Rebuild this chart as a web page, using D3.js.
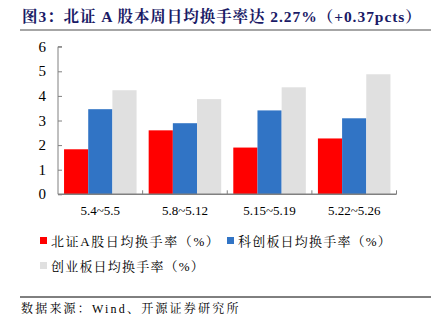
<!DOCTYPE html>
<html><head><meta charset="utf-8">
<script src="https://cdn.jsdelivr.net/npm/d3@7"></script>
<style>body{margin:0;background:#fff;} svg{display:block;}</style>
</head><body>
<script>
const categories = ["5.4~5.5", "5.8~5.12", "5.15~5.19", "5.22~5.26"];
const seriesNames = ["北证A股日均换手率（%）", "科创板日均换手率（%）", "创业板日均换手率（%）"];
const bse = [1.83, 2.60, 1.90, 2.27];
const star = [3.46, 2.89, 3.41, 3.09];
const chinext = [4.23, 3.87, 4.35, 4.88];
const yTicks = [0, 1, 2, 3, 4, 5, 6];
const colors = ["#ff0000", "#3174c5", "#e0e0e0"];
const title = "图3：北证 A 股本周日均换手率达 2.27%（+0.37pcts）";
const source = "数据来源：Wind、开源证券研究所";

const W = 440, H = 325;
const svg = d3.select("body").append("svg").attr("width", W).attr("height", H);
const serif = "'Liberation Serif','Times New Roman','Noto Serif CJK SC','Noto Sans CJK SC',serif";

// title
svg.append("text").attr("x", 22).attr("y", 22).attr("font-family", serif)
  .attr("font-weight", "bold").attr("font-size", 15.5).attr("letter-spacing", 0.95)
  .attr("fill", "#1a1a66").text(title);
svg.append("line").attr("x1", 20).attr("x2", 431).attr("y1", 30).attr("y2", 30)
  .attr("stroke", "#888").attr("stroke-width", 1.5);

const m = {left: 58, right: 396.5, top: 46.7, bottom: 194.3};
const x = d3.scaleBand().domain(categories).range([m.left, m.right]).paddingInner(0).paddingOuter(0);
const y = d3.scaleLinear().domain([0, 6]).range([m.bottom, m.top]);
const data = [bse, star, chinext];
const x1 = d3.scaleBand().domain(d3.range(3)).range([0, x.bandwidth()]).paddingOuter(0.25).paddingInner(0);

const g = svg.append("g");
data.forEach((s, si) => {
  g.selectAll(null).data(s).enter().append("rect")
    .attr("x", (d, i) => x(categories[i]) + x1(si))
    .attr("width", x1.bandwidth())
    .attr("y", d => y(d))
    .attr("height", d => y(0) - y(d))
    .attr("fill", colors[si]);
});

// y axis
const yAxis = d3.axisRight(y).tickValues(yTicks).tickSize(4).tickFormat("");
const ya = svg.append("g").attr("transform", `translate(${m.left},0)`).call(yAxis);
ya.select(".domain").attr("stroke", "#808080").attr("d", `M${4},${m.top}H0V${m.bottom}`);
ya.selectAll(".tick line").attr("stroke", "#808080");
svg.selectAll(null).data(yTicks).enter().append("text")
  .attr("x", 46).attr("y", d => y(d) + 5).attr("text-anchor", "end")
  .attr("font-family", serif).attr("font-size", 15).attr("fill", "#000").text(d => d);

// x axis
const xa = svg.append("g").attr("transform", `translate(0,${m.bottom})`);
xa.append("line").attr("x1", m.left).attr("x2", m.right).attr("stroke", "#808080").attr("stroke-width", 1.5);
const bounds = categories.map(c => x(c) + x.bandwidth());
xa.selectAll(null).data(bounds).enter().append("line")
  .attr("x1", d => d).attr("x2", d => d).attr("y1", 0).attr("y2", -4).attr("stroke", "#808080");
xa.selectAll(null).data(categories).enter().append("text")
  .attr("x", d => x(d) + x.bandwidth() / 2).attr("y", 21).attr("text-anchor", "middle")
  .attr("font-family", serif).attr("font-size", 13).attr("fill", "#000").text(d => d);

// legend
const legPos = [[40, 241], [227, 241], [40, 266]];
seriesNames.forEach((n, i) => {
  const [lx, ly] = legPos[i];
  svg.append("rect").attr("x", lx).attr("y", ly - 4).attr("width", 7).attr("height", 7).attr("fill", colors[i]);
  svg.append("text").attr("x", lx + 11).attr("y", ly + 4.5).attr("font-family", serif)
    .attr("font-size", 13).attr("letter-spacing", i === 0 ? 1.6 : 1.2).attr("fill", "#000").text(n);
});

// source
svg.append("line").attr("x1", 20).attr("x2", 431).attr("y1", 297).attr("y2", 297)
  .attr("stroke", "#000").attr("stroke-width", 1);
svg.append("text").attr("x", 21).attr("y", 313).attr("font-family", serif)
  .attr("font-size", 12).attr("letter-spacing", 2.2).attr("fill", "#000").text(source);
</script>
</body></html>
